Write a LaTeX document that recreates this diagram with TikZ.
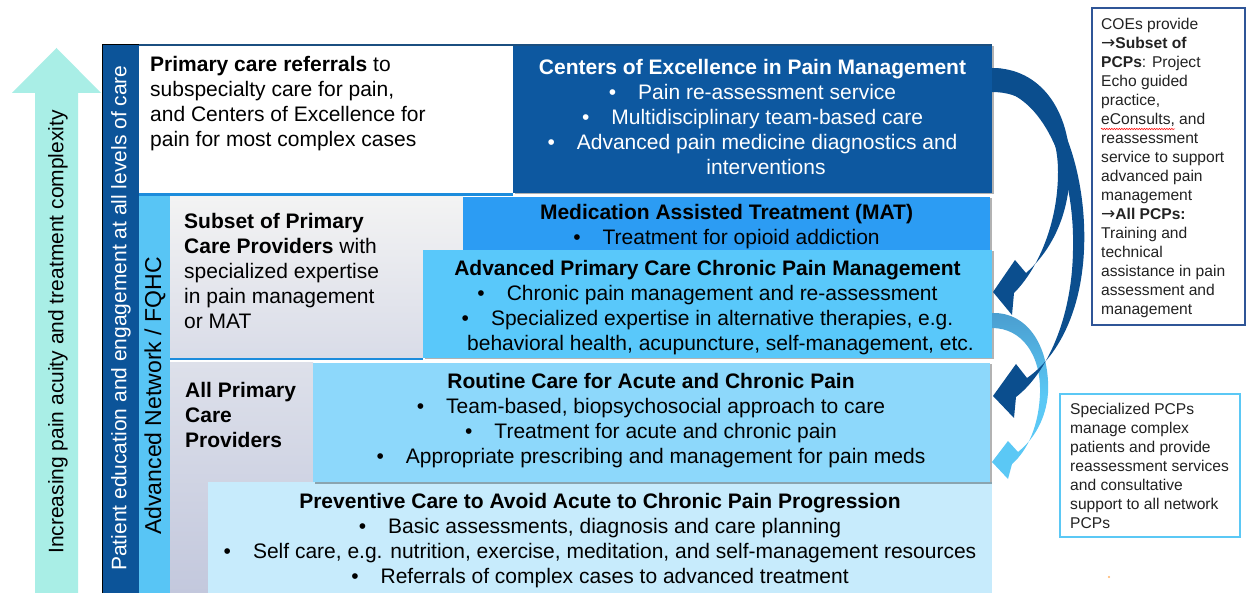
\documentclass[tikz,border=0pt]{standalone}
\usepackage{fontspec}
\setmainfont{Liberation Sans}
\newfontfamily\symfont{DejaVu Sans}
\usetikzlibrary{shadows,decorations.pathmorphing}
\definecolor{tealarrow}{HTML}{A9EEE6}
\definecolor{darkbar}{HTML}{0C5499}
\definecolor{coeblue}{HTML}{0D58A0}
\definecolor{arrowdark}{HTML}{0B4E8E}
\definecolor{netblue}{HTML}{58C5F5}
\definecolor{matblue}{HTML}{2C9CF3}
\definecolor{advblue}{HTML}{59C8FA}
\definecolor{routblue}{HTML}{8DD8FB}
\definecolor{prevblue}{HTML}{C7EBFC}
\definecolor{grayA}{HTML}{F3F3F3}
\definecolor{grayB}{HTML}{D9DCE8}
\definecolor{grayC}{HTML}{DDE0EA}
\definecolor{grayD}{HTML}{C3C8DD}
\definecolor{lineblue}{HTML}{1C8CDC}
\definecolor{topline}{HTML}{1B4F80}
\definecolor{boxAborder}{HTML}{2F5597}
\definecolor{boxBborder}{HTML}{5BC8F5}
\definecolor{lighttop}{HTML}{4A9DCF}
\definecolor{textgray}{HTML}{222222}
\newcommand{\mybul}{\textbullet\hspace{22pt}}
\newcommand{\myarr}{{\symfont\fontsize{17}{19}\selectfont→}}
\begin{document}
\begin{tikzpicture}[x=1pt,y=-1pt,
  font=\fontsize{21}{25}\selectfont,
  blk/.style={inner sep=0pt, outer sep=0pt, anchor=north west, draw=none},
  shad/.style={drop shadow={shadow xshift=1.5pt, shadow yshift=-1.5pt, opacity=0.3, fill=black}},
  maintxt/.style={inner sep=0pt, anchor=north, align=center, execute at begin node={\rule{0pt}{18pt}}},
  lefttxt/.style={inner sep=0pt, anchor=north west, align=left, execute at begin node={\rule{0pt}{18pt}}},
  sidetxt/.style={inner sep=0pt, anchor=north west, align=left, text=textgray, font=\fontsize{15.6}{19}\selectfont, execute at begin node={\rule{0pt}{13.5pt}}},
  vtxt/.style={inner sep=0pt, rotate=90, anchor=center},
]
\useasboundingbox (0,0) rectangle (1248,593);
\fill[white] (0,0) rectangle (1248,593);

% left big arrow
\fill[tealarrow] (35,593) -- (35,93) -- (12,93) -- (56.5,48) -- (101,93) -- (78,93) -- (78,593) -- cycle;
\node[vtxt] (acuity) at (58,332) {Increasing pain acuity and treatment complexity};

% patient education bar
\node[blk, fill=darkbar, draw=black, line width=0.8pt, minimum width=37pt, minimum height=549pt] (edubar) at (102,44) {};
\node[vtxt, text=white] (edutxt) at (121,318) {Patient education and engagement at all levels of care};

% top row
\node[blk, fill=white, minimum width=374pt, minimum height=149pt] (refbox) at (139,45) {};
\node[blk, fill=coeblue, shad, minimum width=479pt, minimum height=148pt] (coe) at (513,45) {};
\draw[topline, line width=1.2pt] (refbox.north west) -- (coe.north east);
\draw[lineblue, line width=2.5pt] (139,194.5) -- (513,194.5);

% network strip
\node[blk, fill=netblue, minimum width=31pt, minimum height=397pt] (net) at (139,196) {};
\node[vtxt, font=\fontsize{23}{28}\selectfont] (nettxt) at (155,396) {Advanced Network / FQHC};

% gray regions
\node[blk, top color=grayA, bottom color=grayB, minimum width=293pt, minimum height=161pt] (subset) at (170,197) {};
\node[blk, top color=grayC, bottom color=grayD, minimum width=143pt, minimum height=230pt] (allpcp) at (170,363) {};
\draw[lineblue, line width=2pt] (170,359.5) -- (423,359.5);

% tiers
\node[blk, fill=prevblue, minimum width=784pt, minimum height=111pt] (prev) at (208,482) {};
\node[blk, fill=routblue, shad, minimum width=677pt, minimum height=119pt] (rout) at (313,363) {};
\node[blk, fill=matblue, shad, minimum width=527pt, minimum height=53pt] (mat) at (463,197) {};
\node[blk, fill=advblue, shad, minimum width=569pt, minimum height=108pt] (adv) at (423,250) {};

% texts
\node[lefttxt] (reftxt) at (150,56.5) {\textbf{Primary care referrals} to\\subspecialty care for pain,\\and Centers of Excellence for\\pain for most complex cases};
\node[maintxt, text=white] (coetxt) at (752.5,59.5) {\textbf{Centers of Excellence in Pain Management}\\\mybul Pain re-assessment service\\\mybul Multidisciplinary team-based care\\\mybul Advanced pain medicine diagnostics and\\\hspace*{27pt}interventions};
\node[maintxt] (mattxt) at (726.5,204.5) {\textbf{Medication Assisted Treatment (MAT)}\\\mybul Treatment for opioid addiction};
\node[maintxt] (advtxt) at (707.5,260.5) {\textbf{Advanced Primary Care Chronic Pain Management}\\\mybul Chronic pain management and re-assessment\\\mybul Specialized expertise in alternative therapies, e.g.\\\hspace*{26pt}behavioral health, acupuncture, self-management, etc.};
\node[maintxt] (routtxt) at (651,373.5) {\textbf{Routine Care for Acute and Chronic Pain}\\\mybul Team-based, biopsychosocial approach to care\\\mybul Treatment for acute and chronic pain\\\mybul Appropriate prescribing and management for pain meds};
\node[maintxt] (prevtxt) at (600,493.5) {\textbf{Preventive Care to Avoid Acute to Chronic Pain Progression}\\\mybul Basic assessments, diagnosis and care planning\\\mybul Self care, e.g. nutrition, exercise, meditation, and self-management resources\\\mybul Referrals of complex cases to advanced treatment};
\node[lefttxt] (subtxt) at (184,213.5) {\textbf{Subset of Primary}\\\textbf{Care Providers} with\\specialized expertise\\in pain management\\or MAT};
\node[lefttxt] (alltxt) at (185,382.5) {\textbf{All Primary}\\\textbf{Care}\\\textbf{Providers}};

% curved arrows
\shade[top color=lighttop, bottom color=boxBborder, middle color=boxBborder]
  (992,313) .. controls (1030,312) and (1050,350) .. (1048,393)
  .. controls (1046,420) and (1033,440) .. (1018,452)
  -- (1008,441) -- (992,462) -- (1008,479) -- (1012,464)
  .. controls (1028,450) and (1039,425) .. (1040,393)
  .. controls (1041,355) and (1022,328) .. (992,328) -- cycle;
\fill[arrowdark]
  (992,68) .. controls (1040,68) and (1071,110) .. (1070,170)
  .. controls (1069,215) and (1052,250) .. (1026,273)
  -- (1015,260) -- (993,292) -- (1012,315) -- (1014,293)
  .. controls (1037,270) and (1058,225) .. (1058,172)
  .. controls (1058,120) and (1030,92) .. (992,92) -- cycle;
\fill[arrowdark]
  (992,68) .. controls (1050,68) and (1088,160) .. (1084,250)
  .. controls (1081,315) and (1056,358) .. (1027,378)
  -- (1016,364) -- (993,396) -- (1014,418) -- (1016,397)
  .. controls (1046,374) and (1072,320) .. (1073,250)
  .. controls (1075,170) and (1045,100) .. (1000,90) -- cycle;

% side notes
\node[blk, draw=boxAborder, line width=2pt, fill=white, minimum width=153pt, minimum height=317pt] (coenote) at (1092,8) {};
\node[sidetxt] (coenotetxt) at (1101,18) {COEs provide\\\myarr\textbf{Subset of}\\\textbf{PCPs}: Project\\Echo guided\\practice,\\eConsults, and\\reassessment\\service to support\\advanced pain\\management\\\myarr\textbf{All PCPs:}\\Training and\\technical\\assistance in pain\\assessment and\\management};
\draw[red, line width=0.5pt, decorate, decoration={snake, amplitude=0.7pt, segment length=2.5pt}] (1101,129) -- (1175,129);

\node[blk, draw=boxBborder, line width=2.5pt, fill=white, minimum width=180pt, minimum height=143pt] (pcpnote) at (1060,394) {};
\node[sidetxt] (pcpnotetxt) at (1070,403) {Specialized PCPs\\manage complex\\patients and provide\\reassessment services\\and consultative\\support to all network\\PCPs};

\fill[orange!60] (1109,577) circle (1.2pt);
\end{tikzpicture}
\end{document}
